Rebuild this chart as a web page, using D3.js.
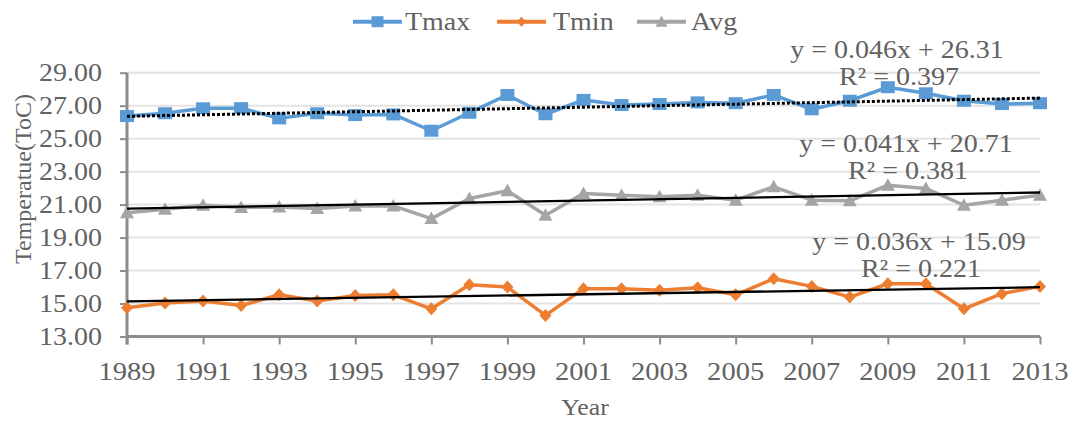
<!DOCTYPE html>
<html><head><meta charset="utf-8">
<script src="https://cdn.jsdelivr.net/npm/d3@7"></script>
<style>html,body{margin:0;padding:0;background:#fff;}svg{display:block;}</style>
</head><body>
<svg id="c" width="1073" height="423"></svg>
<script>
const years = [1989,1990,1991,1992,1993,1994,1995,1996,1997,1998,1999,2000,2001,2002,2003,2004,2005,2006,2007,2008,2009,2010,2011,2012,2013];
const tmax = [26.37,26.54,26.84,26.85,26.23,26.54,26.43,26.47,25.48,26.57,27.65,26.48,27.35,27.04,27.10,27.20,27.15,27.65,26.78,27.30,28.12,27.75,27.30,27.10,27.15];
const tmin = [14.74,15.03,15.15,14.88,15.53,15.15,15.49,15.53,14.68,16.14,16.00,14.28,15.90,15.90,15.80,15.96,15.53,16.50,16.04,15.39,16.20,16.20,14.68,15.60,16.04];
const avg  = [20.50,20.72,20.96,20.82,20.86,20.76,20.92,20.92,20.15,21.37,21.84,20.36,21.67,21.57,21.47,21.57,21.27,22.08,21.27,21.23,22.18,21.98,20.96,21.27,21.57];
const yTicks = [13,15,17,19,21,23,25,27,29];
const xTicks = [1989,1991,1993,1995,1997,1999,2001,2003,2005,2007,2009,2011,2013];
const seriesNames = ["Tmax","Tmin","Avg"];
const trendSlope = [0.046, 0.036, 0.041];
const trendIntercept = [26.31, 15.09, 20.71];
const trendEq = ["y = 0.046x + 26.31","y = 0.036x + 15.09","y = 0.041x + 20.71"];
const trendR2 = ["R² = 0.397","R² = 0.221","R² = 0.381"];

const colors = ["#5b9bd5","#ed7d31","#a5a5a5"];
const textColor = "#626262";
const font = "'Liberation Serif','Times New Roman',serif";
const SX = 1.12;

const svg = d3.select("#c");
const x = d3.scaleLinear().domain([1989,2013]).range([127,1040]);
const y = d3.scaleLinear().domain([13,29]).range([336.5,72.7]);

function stext(g, tx, ty, str, anchor, size){
  return g.append("text").attr("transform",`translate(${tx},${ty}) scale(${SX},1)`)
    .attr("text-anchor",anchor).attr("font-family",font).attr("font-size",size)
    .attr("fill",textColor).text(str);
}

// gridlines
svg.append("g").selectAll("line").data(yTicks.filter(d=>d>13)).join("line")
  .attr("x1",x(1989)).attr("x2",x(2013)).attr("y1",d=>y(d)).attr("y2",d=>y(d))
  .attr("stroke","#e3e3e3").attr("stroke-width",2);

// y axis
const yAxis = d3.axisLeft(y).tickValues(yTicks).tickSize(7).tickFormat(d3.format(".2f"));
const gy = svg.append("g").attr("transform",`translate(${x(1989)},0)`).call(yAxis);
gy.select(".domain").attr("stroke","#8c8c8c").attr("stroke-width",3).attr("d",`M0,${y(29)}V${y(13)+8}`);
gy.selectAll(".tick line").attr("stroke","#8c8c8c").attr("stroke-width",2);
gy.selectAll(".tick text").remove();
yTicks.forEach(t=>{ stext(svg, 102, y(t)+8.5, d3.format(".2f")(t), "end", 25); });

// x axis
const xAxis = d3.axisBottom(x).tickValues(xTicks).tickSize(8).tickFormat(d3.format("d"));
const gx = svg.append("g").attr("transform",`translate(0,${y(13)})`).call(xAxis);
gx.select(".domain").attr("stroke","#8c8c8c").attr("stroke-width",3).attr("d",`M${x(1989)},0H${x(2013)}`);
gx.selectAll(".tick line").attr("stroke","#8c8c8c").attr("stroke-width",2);
gx.selectAll(".tick text").remove();
xTicks.forEach(t=>{ stext(svg, x(t), 380, String(t), "middle", 25.5); });

// axis titles
stext(svg, 585, 415, "Year", "middle", 23);
svg.append("text").attr("transform","translate(31,179) rotate(-90)")
  .attr("text-anchor","middle").attr("font-family",font).attr("font-size",24)
  .attr("fill",textColor).text("Temperatue(ToC)");

// series
const data = [tmax, tmin, avg];
const line = d3.line().x((d,i)=>x(years[i])).y(d=>y(d));
const drawOrder = [0,2,1];
drawOrder.forEach(si=>{
  const vals = data[si];
  svg.append("path").datum(vals).attr("d",line).attr("fill","none")
    .attr("stroke",colors[si]).attr("stroke-width",3.5).attr("stroke-linejoin","round");
  const g = svg.append("g").attr("fill",colors[si]);
  vals.forEach((v,i)=>{
    const cx = x(years[i]), cy = y(v);
    if(si===0){
      g.append("rect").attr("x",cx-7).attr("y",cy-6).attr("width",14).attr("height",12);
    } else if(si===1){
      g.append("path").attr("d",`M${cx},${cy-6.5}L${cx+6},${cy}L${cx},${cy+6.5}L${cx-6},${cy}Z`);
    } else {
      g.append("path").attr("d",`M${cx},${cy-7}L${cx+7},${cy+5.5}L${cx-7},${cy+5.5}Z`);
    }
  });
});

// trend lines
[0,2,1].forEach(si=>{
  const x1 = 1, x2 = years.length;
  const p = svg.append("line")
    .attr("x1",x(years[0])).attr("x2",x(years[years.length-1]))
    .attr("y1",y(trendSlope[si]*x1+trendIntercept[si]))
    .attr("y2",y(trendSlope[si]*x2+trendIntercept[si]))
    .attr("stroke","#000").attr("stroke-width",si===0?3:2.3);
  if(si===0) p.attr("stroke-dasharray","3,2");
});

// equation labels
const eqPos = [[897,58],[919,250],[906,152]];
[0,2,1].forEach(si=>{
  stext(svg, eqPos[si][0], eqPos[si][1], trendEq[si], "middle", 25);
  stext(svg, eqPos[si][0]+2, eqPos[si][1]+27, trendR2[si], "middle", 25);
});

// legend
const legend = [[353,405],[497,553],[637,691]];
seriesNames.forEach((n,si)=>{
  const lx = legend[si][0];
  svg.append("line").attr("x1",lx).attr("x2",lx+49).attr("y1",21.7).attr("y2",21.7)
    .attr("stroke",colors[si]).attr("stroke-width",4);
  const cx = lx+24.5, cy=21.7;
  if(si===0) svg.append("rect").attr("x",cx-6).attr("y",cy-5.5).attr("width",12).attr("height",11).attr("fill",colors[si]);
  else if(si===1) svg.append("path").attr("d",`M${cx},${cy-5}L${cx+4.5},${cy}L${cx},${cy+5}L${cx-4.5},${cy}Z`).attr("fill",colors[si]);
  else svg.append("path").attr("d",`M${cx},${cy-6}L${cx+6},${cy+5}L${cx-6},${cy+5}Z`).attr("fill",colors[si]);
  stext(svg, legend[si][1], 30, n, "start", 25);
});
</script>
</body></html>
